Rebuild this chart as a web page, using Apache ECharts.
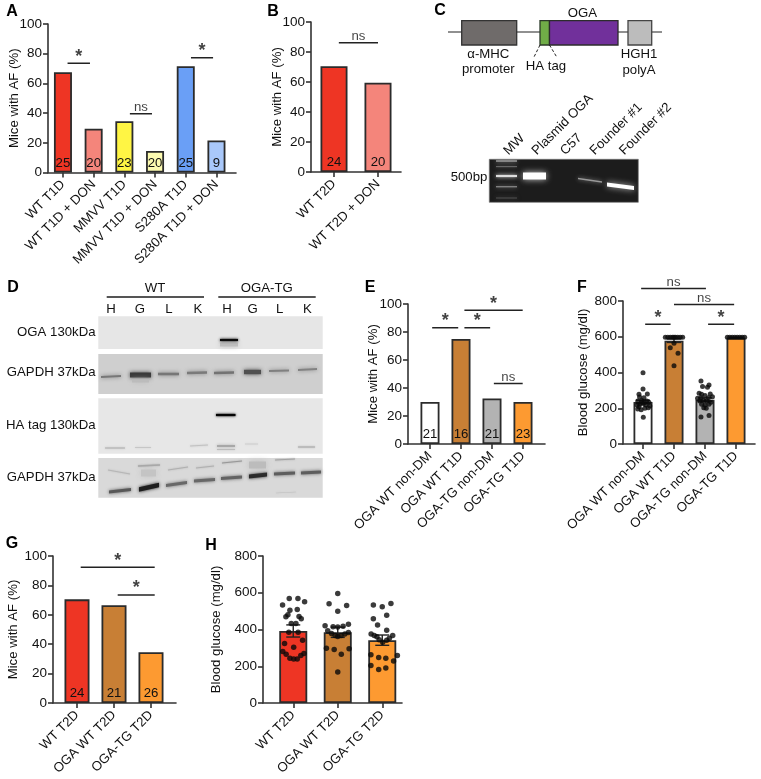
<!DOCTYPE html>
<html><head><meta charset="utf-8">
<style>html,body{margin:0;padding:0;background:#fff}#c{width:761px;height:779px}</style>
<script src="https://cdn.jsdelivr.net/npm/echarts@6/dist/echarts.min.js"></script>
</head><body><div id="c"></div>
<script>
// ---- data ----
const catsA = ['WT T1D','WT T1D + DON','MMVV T1D','MMVV T1D + DON','S280A T1D','S280A T1D + DON'];
const valsA = [67.5,29.5,34.5,14.5,71.5,21.5];
const nA = [25,20,23,20,25,9];
const catsB = ['WT T2D','WT T2D + DON'];
const valsB = [70.5,59.5];
const nB = [24,20];
const catsE = ['OGA WT non-DM','OGA WT T1D','OGA-TG non-DM','OGA-TG T1D'];
const valsE = [30,75,32.5,30];
const nE = [21,16,21,23];
const catsF = ['OGA WT non-DM','OGA WT T1D','OGA-TG non-DM','OGA-TG T1D'];
const valsF = [235,578,248,595];
const errF = [10,10,10,2];
const catsG = ['WT T2D','OGA WT T2D','OGA-TG T2D'];
const valsG = [70.5,66.5,34.5];
const nG = [24,21,26];
const catsH = ['WT T2D','OGA WT T2D','OGA-TG T2D'];
const valsH = [392,385,342];
const errH = [33,28,28];
// individual animals: [jitter around category, glucose]
const dotsF0 = [[0,399],[0,308],[-.13,278],[.14,280],[-.11,263],[.03,259],[-.17,241],[-.04,244],[.12,241],[.19,233],[-.19,218],[-.1,222],[.01,226],[.09,218],[.22,213],[-.17,196],[-.06,192],[.06,200],[.17,203],[-.13,209],[.01,149],[-.04,233],[.04,233]];
const dotsF1 = [[-.28,597],[-.2,597],[-.12,597],[-.05,597],[0,597],[.05,597],[.12,597],[.2,597],[.28,597],[-.12,539],[0,563],[.13,507],[0,438]];
const dotsF2 = [[-.13,353],[-.08,321],[.13,330],[.08,317],[-.19,284],[-.11,278],[.17,280],[0,271],[-.24,256],[-.13,259],[.11,259],[.24,265],[-.17,241],[-.05,244],[.06,241],[.19,233],[-.11,222],[0,218],[.13,222],[-.04,203],[.04,200],[-.13,151],[.13,160]];
const dotsF3 = [[-.28,597],[-.2,597],[-.12,597],[-.04,597],[.04,597],[.12,597],[.2,597],[.28,597]];
const dotsH0 = [[-.09,569],[.105,569],[-.24,533],[.255,551],[-.075,505],[.09,509],[-.12,480],[-.165,469],[.13,471],[.18,458],[-.045,433],[.06,433],[-.1,385],[.11,385],[-.195,324],[.01,304],[.21,342],[-.235,280],[-.16,265],[.24,269],[.17,258],[-.075,244],[.01,240],[.09,240]];
const dotsH1 = [[0,596],[-.195,540],[.2,531],[0,500],[-.285,420],[-.105,415],[0,413],[.12,418],[.24,429],[-.225,393],[-.14,378],[-.06,367],[0,362],[.075,367],[.16,375],[.24,384],[-.255,298],[-.08,291],[.255,295],[.08,265],[0,169]];
const dotsH2 = [[-.2,533],[0,524],[.195,542],[.1,478],[-.2,458],[-.105,425],[.1,396],[-.25,376],[-.18,367],[-.12,360],[-.07,344],[.01,331],[.1,342],[.16,353],[.235,367],[-.255,262],[-.08,247],[.08,244],[.34,258],[.255,229],[-.255,204],[-.08,182],[.08,191]];
// significance brackets: [from, to, height, text]
const sigA = [[.15,.88,73.5,'*'],[2.18,2.9,39.6,'ns'],[4.17,4.89,77.3,'*']];
const sigB = [[.11,1,86.2,'ns']];
const sigE = [[.07,.91,83,'*'],[1.11,1.94,83,'*'],[1.11,2.99,95.5,'*'],[2.06,2.99,43.3,'ns']];
const sigF = [[-.06,2.03,870,'ns'],[1,2.94,780,'ns'],[.07,.89,670,'*'],[2.1,2.94,670,'*']];
const sigG = [[.1,2.1,92.3,'*'],[1.1,2.1,73.5,'*']];
// colours
const RED='#ee3524',SAL='#f4857b',YEL='#fff544',LYE='#fdfbb1',BLU='#6a9ff6',LBL='#a9c8fa',BRO='#c87f35',GRY='#b3b3b3',ORA='#fd9a31',WHT='#ffffff';
const INK='#111111', AX='#333333', FONT='"Liberation Sans",Arial,sans-serif', FS=13.2;

const grid=[],xAxis=[],yAxis=[],series=[];
function panel(p){
  const g0=grid.length;
  const n=p.cats.length;
  // frame: holds the value axis and full-length baseline
  grid.push({left:p.axisX,top:p.top,width:p.xEnd-p.axisX,height:p.h});
  xAxis.push({gridIndex:g0,type:'value',min:0,max:1,position:'bottom',
    axisLine:{show:true,onZero:false,lineStyle:{color:AX,width:1.6}},axisTick:{show:false},axisLabel:{show:false},splitLine:{show:false}});
  yAxis.push({gridIndex:g0,type:'value',min:0,max:p.yMax,interval:p.yInt,position:'left',
    name:p.yName,nameLocation:'middle',nameGap:p.nameGap,nameRotate:90,nameMoveOverlap:false,
    nameTextStyle:{color:INK,fontFamily:FONT,fontSize:FS},
    axisLine:{show:true,onZero:false,lineStyle:{color:AX,width:1.6}},
    axisTick:{show:true,length:5,lineStyle:{color:AX,width:1.6}},
    axisLabel:{color:INK,fontFamily:FONT,fontSize:13.5,margin:6},splitLine:{show:false}});
  // data grid
  const g1=grid.length;
  grid.push({left:p.bandL,top:p.top,width:p.bandW,height:p.h});
  const xCat=xAxis.length;
  xAxis.push({gridIndex:g1,type:'category',data:p.cats,position:'bottom',
    axisLine:{show:false},axisTick:{show:true,alignWithLabel:true,length:5,lineStyle:{color:AX,width:1.6}},
    axisLabel:{interval:0,rotate:45,color:INK,fontFamily:FONT,fontSize:FS,margin:10},splitLine:{show:false}});
  const xNum=xAxis.length;
  xAxis.push({gridIndex:g1,type:'value',min:-.5,max:n-.5,show:false,splitLine:{show:false}});
  const yD=yAxis.length;
  yAxis.push({gridIndex:g1,type:'value',min:0,max:p.yMax,show:false,splitLine:{show:false}});
  series.push({type:'bar',xAxisIndex:xCat,yAxisIndex:yD,barWidth:p.barW,silent:true,
    data:p.vals.map((v,i)=>({value:v,itemStyle:{color:p.colors[i]}})),
    itemStyle:{borderColor:'#2b2b2b',borderWidth:1.8},
    label:{show:!!p.ns,position:'insideBottom',distance:3,color:INK,fontFamily:FONT,fontSize:13.2,
      formatter:q=>p.ns?String(p.ns[q.dataIndex]):''}});
  (p.sig||[]).forEach(s=>{
    series.push({type:'line',xAxisIndex:xNum,yAxisIndex:yD,clip:false,symbol:'none',silent:true,
      lineStyle:{color:'#222',width:1.5},data:[[s[0],s[2]],[s[1],s[2]]]});
    const star=s[3]==='*';
    series.push({type:'scatter',xAxisIndex:xNum,yAxisIndex:yD,clip:false,symbol:'circle',symbolSize:1,silent:true,
      itemStyle:{color:'rgba(0,0,0,0)'},data:[[(s[0]+s[1])/2,s[2]]],
      label:{show:true,position:'top',distance:star?-3:-1,formatter:s[3],color:INK,fontFamily:FONT,
        fontSize:star?18:13.2,fontWeight:star?'bold':'normal'}});
  });
  if(p.err){
    series.push({type:'custom',xAxisIndex:xNum,yAxisIndex:yD,clip:false,silent:true,z:3,
      data:p.vals.map((v,i)=>[i,v,p.err[i]]),
      renderItem:(params,api)=>{
        const i=api.value(0),m=api.value(1),e=api.value(2);
        const a=api.coord([i,m-e]),b=api.coord([i,m+e]);
        const st={stroke:'#222',lineWidth:1.4},w=7;
        return {type:'group',children:[
          {type:'line',shape:{x1:a[0],y1:a[1],x2:b[0],y2:b[1]},style:st},
          {type:'line',shape:{x1:a[0]-w,y1:a[1],x2:a[0]+w,y2:a[1]},style:st},
          {type:'line',shape:{x1:a[0]-w,y1:b[1],x2:a[0]+w,y2:b[1]},style:st}]};
      }});
  }
  (p.dots||[]).forEach((d,i)=>{
    series.push({type:'scatter',xAxisIndex:xNum,yAxisIndex:yD,clip:false,symbolSize:p.dotSize,silent:true,z:4,
      itemStyle:{color:'#0a0a0a'},data:d.map(q=>[i+q[0],q[1]])});
  });
}
const AF='Mice with AF (%)',BG='Blood glucose (mg/dl)';
panel({cats:catsA,vals:valsA,ns:nA,sig:sigA,colors:[RED,SAL,YEL,LYE,BLU,LBL],axisX:48,xEnd:236,bandL:47.6,bandW:184.2,top:24,h:148.5,yMax:100,yInt:20,yName:AF,nameGap:27.5,barW:18});
panel({cats:catsB,vals:valsB,ns:nB,sig:sigB,colors:[RED,SAL],axisX:311,xEnd:401,bandL:312,bandW:88,top:22,h:150,yMax:100,yInt:20,yName:AF,nameGap:27.5,barW:27});
panel({cats:catsE,vals:valsE,ns:nE,sig:sigE,colors:[WHT,BRO,GRY,ORA],axisX:408,xEnd:545,bandL:414.5,bandW:124,top:304,h:140,yMax:100,yInt:20,yName:AF,nameGap:28.5,barW:19});
panel({cats:catsF,vals:valsF,err:errF,dots:[dotsF0,dotsF1,dotsF2,dotsF3],dotSize:5,sig:sigF,colors:[WHT,BRO,GRY,ORA],axisX:623,xEnd:755,bandL:627.5,bandW:124,top:301,h:143,yMax:800,yInt:200,yName:BG,nameGap:33.5,barW:19});
panel({cats:catsG,vals:valsG,ns:nG,sig:sigG,colors:[RED,BRO,ORA],axisX:53,xEnd:176,bandL:58.5,bandW:111,top:556,h:147,yMax:100,yInt:20,yName:AF,nameGap:33,barW:25});
panel({cats:catsH,vals:valsH,err:errH,dots:[dotsH0,dotsH1,dotsH2],dotSize:5.5,colors:[RED,BRO,ORA],axisX:263,xEnd:402,bandL:271,bandW:133.5,top:556,h:147,yMax:800,yInt:200,yName:BG,nameGap:40,barW:28});

// ---- schematic and blot artwork ----
const els=[];
function T(text,x,y,o){o=o||{};els.push({type:'text',x,y,rotation:o.rot||0,silent:true,z:5,style:{text,fill:o.fill||INK,
  font:(o.bold?'bold ':'')+(o.size||FS)+'px '+FONT,textAlign:o.align||'center',textVerticalAlign:'middle'}});}
function R(x0,y0,x1,y1,fill,stroke,lw){els.push({type:'rect',silent:true,z:2,shape:{x:x0,y:y0,width:x1-x0,height:y1-y0},style:{fill,stroke:stroke||null,lineWidth:lw||0}});}
function L(x0,y0,x1,y1,stroke,lw,dash){els.push({type:'line',silent:true,z:2,shape:{x1:x0,y1:y0,x2:x1,y2:y1},style:{stroke,lineWidth:lw||1.4,lineDash:dash||null}});}
function B(x0,y0,x1,y1,h,fill,blur,glow){ // soft gel / blot band
  els.push({type:'polygon',silent:true,z:3,shape:{points:[[x0,y0-h/2],[x1,y1-h/2],[x1,y1+h/2],[x0,y0+h/2]]},
    style:{fill,shadowBlur:blur||0,shadowColor:glow||fill}});}
[['A',12,12],['B',273,12],['C',440,11],['D',13,288],['E',370,288],['F',582,288],['G',12,544],['H',211,546]]
  .forEach(a=>T(a[0],a[1],a[2],{bold:true,size:16,fill:'#000'}));
// C construct
L(448,32,662,32,'#222',1.2);
R(461.7,20.7,516.7,45,'#6f6b6a','#333',1.3);
R(540,20.7,549.5,45,'#70ad47','#2c3a2a',1.3);
R(549.5,20.7,618,45,'#71309b','#2c2c2c',1.3);
R(628,20.7,651.7,45,'#bcbcbc','#444',1.3);
L(540,45,534,57,'#222',1,[3,2]);L(549.5,45,556.7,57,'#222',1,[3,2]);
T('OGA',582.3,13);T('α-MHC',488.3,54.5);T('promoter',488.3,69.5);T('HA tag',546,66);T('HGH1',639,54.5);T('polyA',639,70);
// C gel
[['MW',506],['Plasmid OGA',534.3],['C57',562.7],['Founder #1',592.3],['Founder #2',621.7]].forEach(a=>T(a[0],a[1],153,{rot:Math.PI/4,align:'left'}));
T('500bp',469,177);
R(489.3,159.3,638.3,202.3,'#1c1c1c','#777',.7);
[[161,1.2,'#b8b8b8'],[166.7,.9,'#7a7a7a'],[176,2.2,'#dddddd'],[186.7,1.4,'#808080'],[198,1,'#505050']].forEach(b=>B(496,b[0],517,b[0],b[1],b[2],4));
B(523,176,546,176,7,'#ffffff',6,'#cfcfcf');
B(578,178.5,602,182,1.4,'#999999',4);
B(607,184.5,634,188,4,'#ffffff',6,'#bdbdbd');
// D blots
T('WT',155,288.5);T('OGA-TG',266.7,288.5);L(106.7,297,204,297,'#555',1.8);L(218.3,297,315.7,297,'#555',1.8);
['H','G','L','K','H','G','L','K'].forEach((t,i)=>T(t,[111,140,169,198,227,252.7,279.7,307.3][i],309.5));
[['OGA 130kDa',332.3],['GAPDH 37kDa',372.7],['HA tag 130kDa',425.7],['GAPDH 37kDa',477.3]].forEach(a=>T(a[0],95.5,a[1],{align:'right'}));
R(98.3,316.3,322.7,349,'#e6e6e6');
R(98.3,354,322.7,394,'#cfcfcf');
R(98.3,398.3,322.7,453.7,'#e7e7e7');
R(98.3,458,322.7,497.7,'#d9d9d9');
B(220,344.5,238,344.5,4,'#bdbdbd',5);B(220,340,238,340,2.2,'#0b0b0b',3);
[[101,121,377,376,2,'#777777'],[130,151,375,375,5,'#3a3a3a'],[158,179,374,374,2.6,'#777777'],[187,207,373,372.5,2.4,'#7a7a7a'],[214,234,373,372.5,2.6,'#737373'],[244,261,372,372,4.4,'#505050'],[269,289,371,370.5,2,'#808080'],[298,317,370,369,1.8,'#828282']]
  .forEach(b=>B(b[0],b[2],b[1],b[3],b[4],b[5],4));
B(132,381,149,381,3,'#bcbcbc',5);
B(216,415,235.5,415,2.2,'#050505',2.5);
B(217,446,235,446,1.8,'#a4a4a4',3);B(217,449.5,235,449.5,1,'#bcbcbc',2);
B(105,448,125,448,1,'#b0b0b0',2);B(135,447.5,151,447.5,.8,'#c2c2c2',2);B(190,446,208,445,.8,'#c2c2c2',2);B(245,444,258,444,.7,'#c8c8c8',2);B(298,447,315,447,1.2,'#b0b0b0',2);
[[109,131,492,489.5,3,'#585858'],[139,159,489.5,485,4.6,'#1e1e1e'],[166,187,485.5,482.5,3,'#686868'],[194,215,481,479.5,3,'#686868'],[221,242,478.5,477,3.2,'#636363'],[249,267,476.5,474.5,4.2,'#2a2a2a'],[274,295,474,473,3,'#5e5e5e'],[301,321,473,472,3.2,'#5e5e5e']]
  .forEach(b=>B(b[0],b[2],b[1],b[3],b[4],b[5],3.5));
B(141,473,156,473,7,'#c4c4c4',6);B(249,465,266,465,7,'#bcbcbc',6);
B(108,470,130,474,.9,'#b6b6b6',2);B(138,466,160,465,1.4,'#a8a8a8',2);B(168,470,188,467,.9,'#b0b0b0',2);B(196,468,214,466,1,'#b0b0b0',2);B(222,463,242,461,1.2,'#989898',2);B(275,460,295,459,1.2,'#a2a2a2',2);B(276,493,296,492,.7,'#c0c0c0',2);

const chart=echarts.init(document.getElementById('c'),null,{renderer:'canvas'});
chart.setOption({animation:false,backgroundColor:'#fff',grid,xAxis,yAxis,series,tooltip:{show:false},legend:{show:false},graphic:{elements:els}});
</script></body></html>
